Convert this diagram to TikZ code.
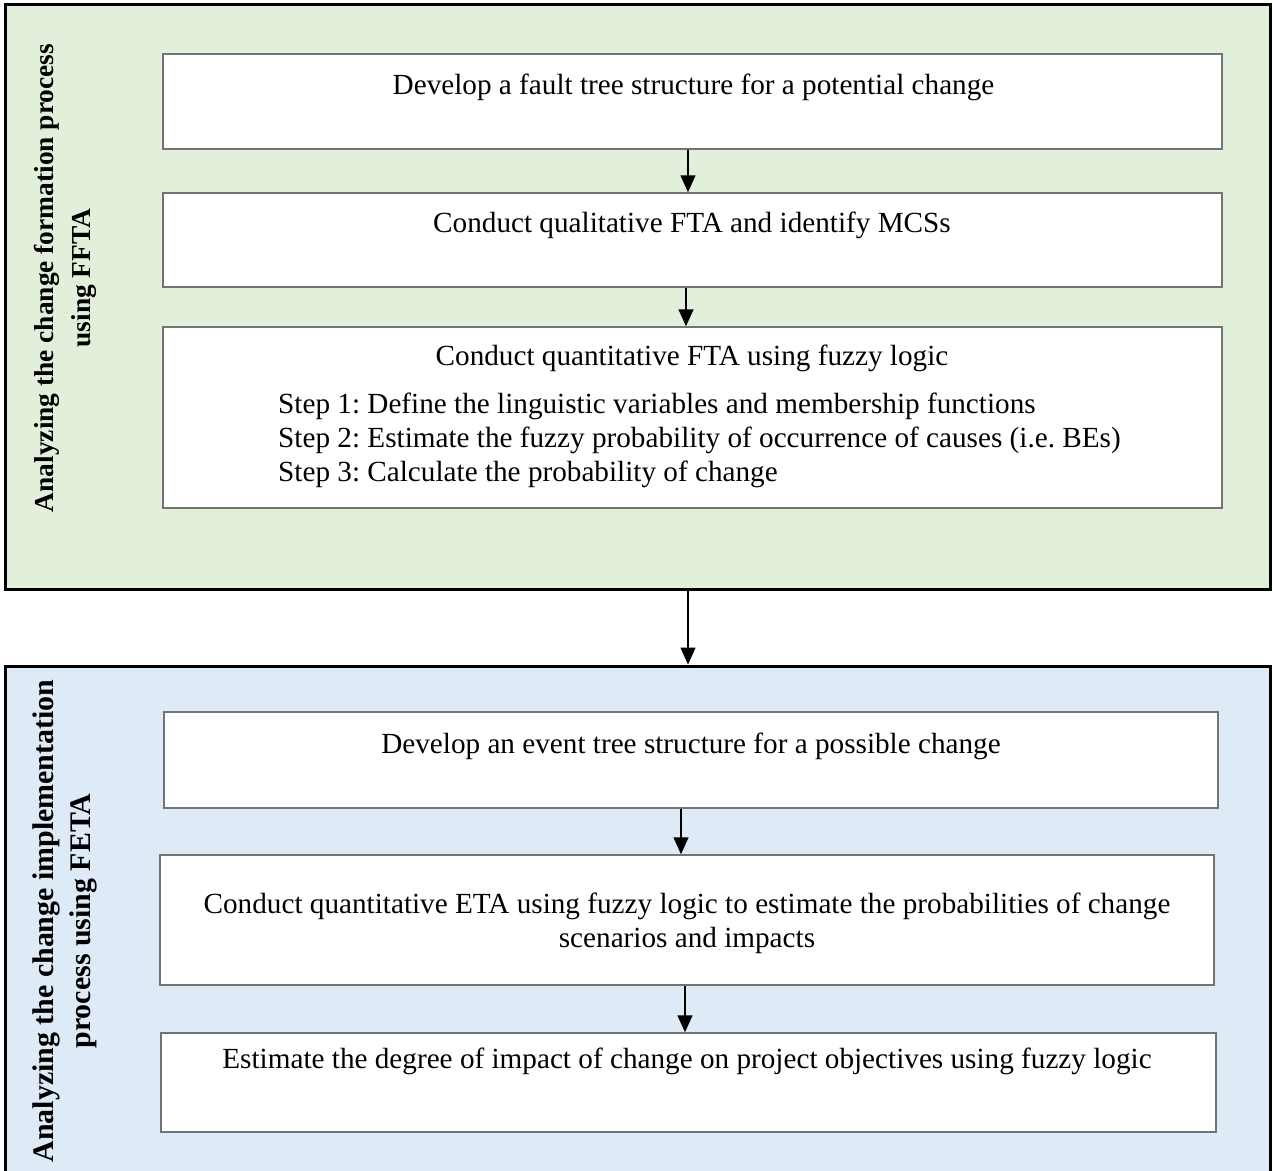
\documentclass[tikz,border=0pt]{standalone}
\usepackage{fontspec}
\setmainfont{Liberation Serif}
\usetikzlibrary{arrows.meta}
\definecolor{greenbg}{HTML}{E2EFDA}
\definecolor{bluebg}{HTML}{DEEAF6}
\frenchspacing
\begin{document}
\begin{tikzpicture}[x=1pt,y=-1pt,
  outer/.style={draw=black,line width=3pt,rectangle,inner sep=0pt},
  stepbox/.style={draw=black!55,line width=1.5pt,fill=white,rectangle,inner sep=0pt},
  txt/.style={font=\fontsize{29.2}{34}\selectfont,inner sep=0pt,align=center},
  side/.style={font=\fontsize{27.4}{37}\selectfont\bfseries,rotate=90,align=center,inner sep=0pt},
  flow/.style={line width=1.5pt,-{Triangle[width=15pt,length=17pt]}}]
\useasboundingbox (0,0) rectangle (1273,1170);
\clip (0,0) rectangle (1273,1170);
% outer panels
\node[outer,fill=greenbg,minimum width=1265pt,minimum height=585pt] (ga) at (637.5,296.5) {};
\node[outer,fill=bluebg,minimum width=1265pt,minimum height=560pt] (gb) at (637.5,946) {};
% side labels
\node[side] (la) at (65,278) {Analyzing the change formation process\\using FFTA};
\node[side,font=\fontsize{29.9}{37}\selectfont\bfseries] (lb) at (65,921) {Analyzing the change implementation\\process using FETA};
% inner boxes
\node[stepbox,minimum width=1059pt,minimum height=95pt] (b1) at (692.5,101.5) {};
\node[stepbox,minimum width=1059pt,minimum height=94pt] (b2) at (692.5,240) {};
\node[stepbox,minimum width=1059pt,minimum height=181pt] (b3) at (692.5,417.5) {};
\node[stepbox,minimum width=1054pt,minimum height=96pt] (b4) at (691,760) {};
\node[stepbox,minimum width=1054pt,minimum height=130pt] (b5) at (687,920) {};
\node[stepbox,minimum width=1055pt,minimum height=99pt] (b6) at (688.5,1082.5) {};
% texts
\node[txt] (t1) at (693.5,87) {Develop a fault tree structure for a potential change};
\node[txt] (t2) at (692,225) {Conduct qualitative FTA and identify MCSs};
\node[txt] (t3) at (692,358) {Conduct quantitative FTA using fuzzy logic};
\node[txt,align=left,anchor=west] (t3s) at (278,440) {Step 1: Define the linguistic variables and membership functions\\Step 2: Estimate the fuzzy probability of occurrence of causes (i.e. BEs)\\Step 3: Calculate the probability of change};
\node[txt] (t4) at (691,746) {Develop an event tree structure for a possible change};
\node[txt] (t5) at (687,923) {Conduct quantitative ETA using fuzzy logic to estimate the probabilities of change\\scenarios and impacts};
\node[txt] (t6) at (687,1061) {Estimate the degree of impact of change on project objectives using fuzzy logic};
% arrows
\draw[flow] ([xshift=-4.5pt]b1.south) -- ([xshift=-4.5pt]b1.south |- b2.north);
\draw[flow] ([xshift=-6.5pt]b2.south) -- ([xshift=-6.5pt]b2.south |- b3.north);
\draw[flow] ([xshift=50.5pt]ga.south) -- ([xshift=50.5pt]ga.south |- gb.north);
\draw[flow] ([xshift=-10pt]b4.south) -- ([xshift=-10pt]b4.south |- b5.north);
\draw[flow] ([xshift=-2pt]b5.south) -- ([xshift=-2pt]b5.south |- b6.north);
\end{tikzpicture}
\end{document}
